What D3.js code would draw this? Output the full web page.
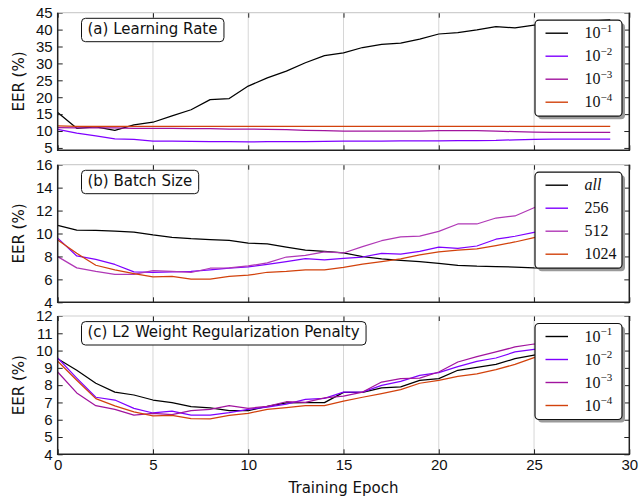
<!DOCTYPE html>
<html>
<head>
<meta charset="utf-8">
<script src="https://cdn.jsdelivr.net/npm/d3@7"></script>
<style>
  body { margin: 0; background: #fff; }
  svg { display: block; font-family: "DejaVu Sans", sans-serif; }
</style>
</head>
<body>
<svg id="chart" width="644" height="496"></svg>
<script>
const epochs = [0, 1, 2, 3, 4, 5, 6, 7, 8, 9, 10, 11, 12, 13, 14, 15, 16, 17, 18, 19, 20, 21, 22, 23, 24, 25, 26, 27, 28, 29];
const xTicks = [0, 5, 10, 15, 20, 25, 30];

// (a) learning rate
const lrExponents = ["\u22121", "\u22122", "\u22123", "\u22124"];
const lr1 = [15.5, 10.8, 11.2, 10.2, 11.8, 12.6, 14.5, 16.3, 19.3, 19.6, 23.3, 25.7, 27.7, 30.2, 32.3, 33.1, 34.7, 35.6, 36.0, 37.2, 38.7, 39.1, 39.9, 40.9, 40.5, 41.3, 41.8, 42.2, 42.5, 42.9];
const lr2 = [10.5, 9.4, 8.6, 7.7, 7.5, 7.0, 7.0, 6.95, 6.85, 6.9, 6.8, 6.85, 6.9, 6.9, 6.95, 7.0, 7.05, 7.05, 7.1, 7.1, 7.1, 7.15, 7.15, 7.2, 7.4, 7.55, 7.6, 7.6, 7.6, 7.6];
const lr3 = [11.0, 10.9, 10.9, 10.9, 10.8, 10.8, 10.8, 10.7, 10.7, 10.6, 10.6, 10.5, 10.4, 10.2, 10.1, 10.0, 10.0, 10.0, 10.0, 10.0, 10.1, 10.1, 10.1, 10.0, 9.8, 9.7, 9.6, 9.6, 9.6, 9.6];
const lr4 = [11.5, 11.4, 11.4, 11.4, 11.4, 11.4, 11.4, 11.4, 11.4, 11.4, 11.4, 11.4, 11.4, 11.4, 11.4, 11.4, 11.4, 11.4, 11.4, 11.4, 11.4, 11.4, 11.4, 11.4, 11.4, 11.4, 11.4, 11.4, 11.4, 11.4];

// (b) batch size
const batchLabels = ["all", "256", "512", "1024"];
const bAll = [10.7, 10.3, 10.27, 10.2, 10.13, 9.87, 9.67, 9.55, 9.47, 9.4, 9.17, 9.09, 8.82, 8.56, 8.45, 8.32, 7.98, 7.78, 7.66, 7.54, 7.4, 7.23, 7.15, 7.12, 7.07, 7.0, 6.97, 6.93, 6.88, 6.97];
const b256 = [9.6, 8.04, 7.75, 7.3, 6.65, 6.6, 6.65, 6.7, 6.82, 6.97, 7.08, 7.3, 7.54, 7.8, 7.7, 7.82, 7.95, 8.27, 8.2, 8.45, 8.82, 8.7, 8.91, 9.5, 9.76, 10.1, 10.4, 10.7, 11.0, 11.2];
const b512 = [7.98, 7.0, 6.7, 6.44, 6.44, 6.76, 6.7, 6.6, 6.97, 7.0, 7.17, 7.43, 7.95, 8.1, 8.39, 8.3, 8.85, 9.37, 9.7, 9.78, 10.19, 10.83, 10.83, 11.35, 11.53, 12.25, 12.6, 12.9, 13.2, 13.5];
const b1024 = [9.43, 8.27, 7.23, 6.82, 6.5, 6.21, 6.27, 6.03, 6.03, 6.27, 6.36, 6.62, 6.7, 6.82, 6.82, 7.05, 7.32, 7.54, 7.78, 8.13, 8.39, 8.56, 8.65, 8.94, 9.26, 9.64, 9.9, 10.1, 10.3, 10.5];

// (c) L2 penalty
const l2Exponents = ["\u22121", "\u22122", "\u22123", "\u22124"];
const c1 = [9.53, 8.86, 8.11, 7.6, 7.43, 7.14, 6.99, 6.76, 6.68, 6.52, 6.52, 6.77, 6.97, 6.99, 6.99, 7.58, 7.58, 7.84, 7.9, 8.28, 8.38, 8.86, 9.03, 9.2, 9.53, 9.74, 9.9, 10.0, 10.1, 10.2];
const c2 = [9.57, 8.41, 7.3, 7.14, 6.66, 6.39, 6.5, 6.27, 6.27, 6.41, 6.6, 6.73, 6.9, 7.18, 7.24, 7.6, 7.6, 7.99, 8.22, 8.57, 8.72, 9.07, 9.38, 9.57, 9.92, 10.07, 10.2, 10.35, 10.5, 10.6];
const c3 = [8.76, 7.55, 6.81, 6.6, 6.27, 6.37, 6.3, 6.52, 6.6, 6.81, 6.66, 6.77, 7.04, 7.0, 7.26, 7.36, 7.6, 8.18, 8.38, 8.41, 8.76, 9.34, 9.65, 9.92, 10.21, 10.38, 10.5, 10.6, 10.7, 10.8];
const c4 = [9.38, 8.28, 7.22, 6.8, 6.45, 6.22, 6.25, 6.06, 6.05, 6.25, 6.37, 6.6, 6.7, 6.82, 6.82, 7.07, 7.3, 7.51, 7.74, 8.11, 8.28, 8.51, 8.65, 8.9, 9.2, 9.59, 9.8, 10.0, 10.1, 10.2];

const svg = d3.select("#chart");
const xScale = d3.scaleLinear().domain([0, 30]).range([57.7, 629.3]);
const dark = "#222";

function drawPanel(p) {
  const yScale = d3.scaleLinear().domain(p.domain).range([p.bottom, p.top]);
  const g = svg.append("g");

  // vertical grid
  g.selectAll(".grid")
    .data([5, 10, 15, 20, 25])
    .enter()
    .append("line")
    .attr("x1", (d) => xScale(d))
    .attr("x2", (d) => xScale(d))
    .attr("y1", p.top)
    .attr("y2", p.bottom)
    .attr("stroke", "#d6d6d6")
    .attr("stroke-width", 1);

  // series lines
  const line = d3
    .line()
    .x((d, i) => xScale(epochs[i]))
    .y((d) => yScale(d));

  p.series.forEach((s, k) => {
    g.append("path")
      .datum(s)
      .attr("d", line)
      .attr("fill", "none")
      .attr("stroke", p.colors[k])
      .attr("stroke-width", 1.25)
      .attr("stroke-linejoin", "round");
  });

  // ticks on all four sides, pointing inward
  const left = g.append("g")
    .attr("transform", `translate(${xScale(0)},0)`)
    .call(d3.axisLeft(yScale).tickValues(p.ticks).tickSize(-5).tickSizeOuter(0).tickPadding(5));
  left.selectAll("text").style("font-size", "15px").attr("fill", "#111");

  g.append("g")
    .attr("transform", `translate(${xScale(30)},0)`)
    .call(d3.axisRight(yScale).tickValues(p.ticks).tickSize(-5).tickSizeOuter(0).tickFormat(""));

  g.append("g")
    .attr("transform", `translate(0,${p.top})`)
    .call(d3.axisTop(xScale).tickValues(xTicks).tickSize(-5).tickSizeOuter(0).tickFormat(""));

  const bottom = g.append("g")
    .attr("transform", `translate(0,${p.bottom})`)
    .call(d3.axisBottom(xScale).tickValues(xTicks).tickSize(-5).tickSizeOuter(0).tickPadding(5)
      .tickFormat(p.showX ? d3.format("d") : ""));
  bottom.selectAll("text").style("font-size", "15px").attr("fill", "#111");

  g.selectAll(".domain").remove();
  g.selectAll(".tick line").attr("stroke", dark).attr("stroke-width", 1);

  // frame: light top, dark left/right/bottom
  g.append("line")
    .attr("x1", xScale(0)).attr("x2", xScale(30))
    .attr("y1", p.top).attr("y2", p.top)
    .attr("stroke", "#cfcfcf").attr("stroke-width", 1.2);
  g.append("path")
    .attr("d", `M${xScale(0)},${p.top}V${p.bottom}H${xScale(30)}V${p.top}`)
    .attr("fill", "none")
    .attr("stroke", dark)
    .attr("stroke-width", 1.5);

  // y label
  g.append("text")
    .attr("transform", `translate(24,${(p.top + p.bottom) / 2}) rotate(-90)`)
    .attr("text-anchor", "middle")
    .style("font-size", "15px")
    .attr("fill", "#111")
    .text("EER (%)");

  // title box
  const tx = 87.5, ty = p.top + 21.3;
  const titleBox = g.append("rect");
  const title = g.append("text")
    .attr("x", tx)
    .attr("y", ty)
    .style("font-size", "15px")
    .attr("fill", "#111")
    .text(p.title);
  const tw = title.node().getComputedTextLength();
  titleBox
    .attr("x", tx - 6)
    .attr("y", ty - 15.7)
    .attr("width", tw + 12.5)
    .attr("height", 23.4)
    .attr("rx", 4)
    .attr("fill", "#fff")
    .attr("stroke", "#111")
    .attr("stroke-width", 1);

  // legend
  const lx = 535, ly = p.top + 7.5, lw = 87, lh = 96;
  const leg = g.append("g");
  leg.append("rect")
    .attr("x", lx + 3).attr("y", ly + 3)
    .attr("width", lw).attr("height", lh)
    .attr("rx", 4)
    .attr("fill", "#9a9a9a");
  leg.append("rect")
    .attr("x", lx).attr("y", ly)
    .attr("width", lw).attr("height", lh)
    .attr("rx", 4)
    .attr("fill", "#fff")
    .attr("stroke", "#111")
    .attr("stroke-width", 1.2);

  p.labels.forEach((lab, i) => {
    const ry = ly + 13 + i * 23;
    leg.append("line")
      .attr("x1", lx + 10.5).attr("x2", lx + 33)
      .attr("y1", ry).attr("y2", ry)
      .attr("stroke", p.colors[i])
      .attr("stroke-width", 1.4);
    const t = leg.append("text")
      .attr("x", lx + 49.5)
      .attr("y", ry + 5.2)
      .attr("fill", "#111")
      .style("font-family", "'Liberation Serif', 'DejaVu Serif', serif")
      .style("font-size", "16px");
    if (p.superscript) {
      t.append("tspan").text("10");
      t.append("tspan").attr("dy", -6.5).style("font-size", "11px").text(lab);
    } else {
      t.text(lab).style("font-style", lab === "all" ? "italic" : "normal");
    }
  });
}

drawPanel({
  top: 12.7, bottom: 150.3, domain: [4.3, 45],
  ticks: [5, 10, 15, 20, 25, 30, 35, 40, 45],
  series: [lr1, lr2, lr3, lr4],
  colors: ["#000000", "#7f00ff", "#a1149e", "#d2420c"],
  labels: lrExponents, superscript: true,
  title: "(a) Learning Rate", showX: false
});

drawPanel({
  top: 164.7, bottom: 302.3, domain: [4, 16],
  ticks: [4, 6, 8, 10, 12, 14, 16],
  series: [bAll, b256, b512, b1024],
  colors: ["#000000", "#7f00ff", "#b038b6", "#d2420c"],
  labels: batchLabels, superscript: false,
  title: "(b) Batch Size", showX: false
});

drawPanel({
  top: 316, bottom: 454.3, domain: [4, 12],
  ticks: [4, 5, 6, 7, 8, 9, 10, 11, 12],
  series: [c1, c2, c3, c4],
  colors: ["#000000", "#7f00ff", "#a1149e", "#d2420c"],
  labels: l2Exponents, superscript: true,
  title: "(c) L2 Weight Regularization Penalty", showX: true
});

svg.append("text")
  .attr("x", (xScale(0) + xScale(30)) / 2)
  .attr("y", 492.5)
  .attr("text-anchor", "middle")
  .style("font-size", "15px")
  .attr("fill", "#111")
  .text("Training Epoch");
</script>
</body>
</html>
